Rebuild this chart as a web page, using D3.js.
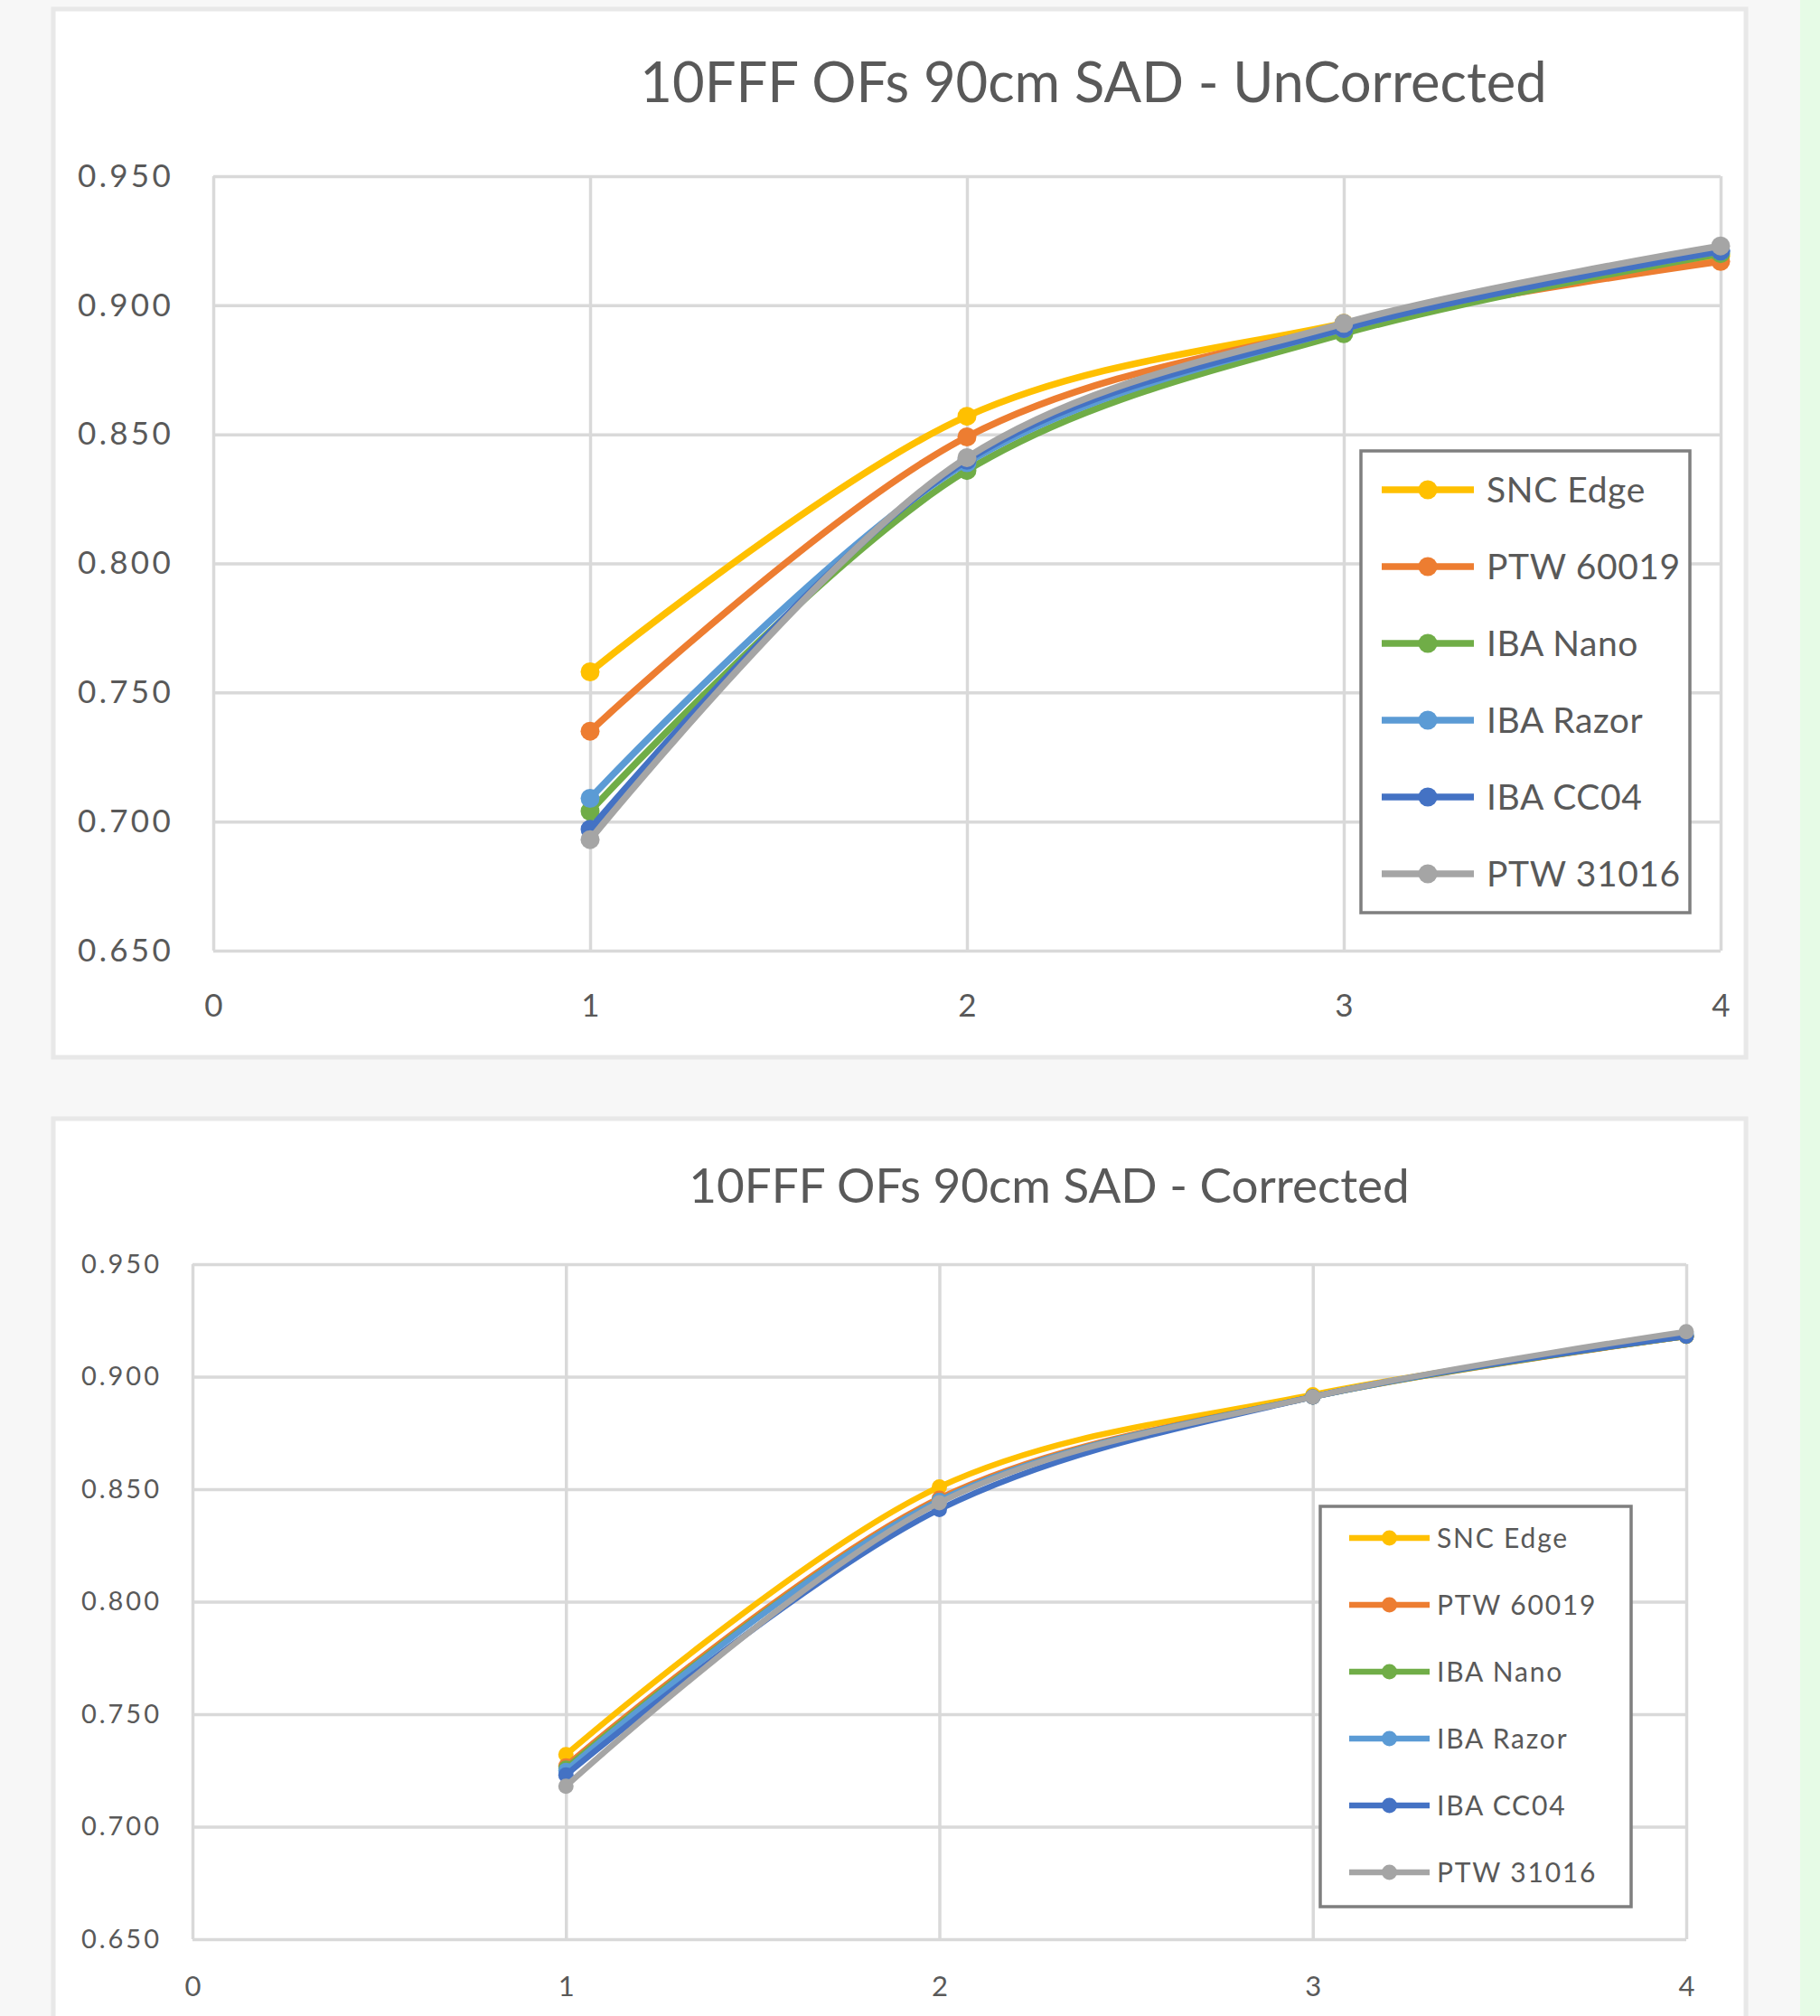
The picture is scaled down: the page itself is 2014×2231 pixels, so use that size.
<!DOCTYPE html>
<html>
<head>
<meta charset="utf-8">
<script src="https://cdn.jsdelivr.net/npm/d3@7"></script>
<style>
  html, body { margin: 0; padding: 0; background: #f7f7f7; }
  svg { display: block; font-family: Lato, "Open Sans", sans-serif; }
</style>
</head>
<body>
<svg id="page" width="2014" height="2231"></svg>
<script>
// ---- data ----
const seriesNames = ["SNC Edge", "PTW 60019", "IBA Nano", "IBA Razor", "IBA CC04", "PTW 31016"];
const seriesColors = ["#ffc000", "#ed7d31", "#70ad47", "#5b9bd5", "#4472c4", "#a5a5a5"];
const fieldSizes = [1, 2, 3, 4];
const xTicks = [0, 1, 2, 3, 4];
const yTicks = [0.65, 0.70, 0.75, 0.80, 0.85, 0.90, 0.95];

// uncorrected output factors
const uncSNC = [0.758, 0.857, 0.893, 0.919];
const uncPTW60019 = [0.735, 0.849, 0.892, 0.917];
const uncNano = [0.704, 0.836, 0.889, 0.920];
const uncRazor = [0.709, 0.839, 0.891, 0.921];
const uncCC04 = [0.697, 0.840, 0.891, 0.921];
const uncPTW31016 = [0.693, 0.841, 0.893, 0.923];

// corrected output factors
const corSNC = [0.732, 0.851, 0.892, 0.918];
const corPTW60019 = [0.727, 0.846, 0.891, 0.918];
const corNano = [0.726, 0.845, 0.891, 0.918];
const corRazor = [0.725, 0.845, 0.891, 0.919];
const corCC04 = [0.723, 0.841, 0.891, 0.918];
const corPTW31016 = [0.718, 0.844, 0.891, 0.920];

const svg = d3.select("#page");

// green strip on the right edge
svg.append("rect").attr("x", 1992).attr("y", 0).attr("width", 22).attr("height", 2231).attr("fill", "#e6fbe6");

function drawChart(cfg, values) {
  const g = svg.append("g");

  // panel
  g.append("rect")
    .attr("x", cfg.panel.x).attr("y", cfg.panel.y)
    .attr("width", cfg.panel.w).attr("height", cfg.panel.h)
    .attr("fill", "#fff").attr("stroke", "#e8e8e8").attr("stroke-width", 5);

  g.append("text")
    .attr("x", cfg.title.x).attr("y", cfg.title.y)
    .attr("text-anchor", "middle")
    .attr("fill", "#595959")
    .style("font-size", cfg.title.size + "px")
    .text(cfg.title.text);

  const x = d3.scaleLinear().domain([0, 4]).range([cfg.plot.left, cfg.plot.right]);
  const y = d3.scaleLinear().domain([0.65, 0.95]).range([cfg.plot.bottom, cfg.plot.top]);
  const plotW = cfg.plot.right - cfg.plot.left;
  const plotH = cfg.plot.bottom - cfg.plot.top;

  const yAxis = g.append("g")
    .attr("transform", `translate(${cfg.plot.left},0)`)
    .call(d3.axisLeft(y).tickValues(yTicks).tickFormat(d3.format(".3f"))
      .tickSize(-plotW).tickPadding(cfg.yTick.pad));

  const xAxis = g.append("g")
    .attr("transform", `translate(0,${cfg.plot.bottom})`)
    .call(d3.axisBottom(x).tickValues(xTicks).tickFormat(d3.format("d"))
      .tickSize(-plotH).tickPadding(cfg.xTick.pad));

  [yAxis, xAxis].forEach(a => {
    a.select(".domain").remove();
    a.selectAll(".tick line").attr("stroke", "#d9d9d9").attr("stroke-width", 3.5);
    a.selectAll("text").attr("fill", "#595959").attr("font-family", "Lato");
  });
  yAxis.selectAll("text").style("font-size", cfg.yTick.size + "px").style("letter-spacing", cfg.yTick.ls + "px");
  xAxis.selectAll("text").style("font-size", cfg.xTick.size + "px");

  const line = d3.line()
    .x((d, i) => x(fieldSizes[i]))
    .y(d => y(d))
    .curve(d3.curveCatmullRom);

  values.forEach((vals, k) => {
    g.append("path")
      .attr("d", line(vals))
      .attr("fill", "none")
      .attr("stroke", seriesColors[k])
      .attr("stroke-width", cfg.lineW);
    g.selectAll(null)
      .data(vals)
      .enter()
      .append("circle")
      .attr("cx", (d, i) => x(fieldSizes[i]))
      .attr("cy", d => y(d))
      .attr("r", cfg.r)
      .attr("fill", seriesColors[k]);
  });

  // legend
  const L = cfg.legend;
  const lg = g.append("g");
  lg.append("rect")
    .attr("x", L.x).attr("y", L.y).attr("width", L.w).attr("height", L.h)
    .attr("fill", "#fff").attr("stroke", "#7f7f7f").attr("stroke-width", 3.5);

  const items = lg.selectAll(".legend-item")
    .data(seriesNames)
    .enter()
    .append("g")
    .attr("class", "legend-item")
    .attr("transform", (d, i) => `translate(0,${L.first + i * L.step})`);

  items.append("line")
    .attr("x1", L.x1).attr("x2", L.x2)
    .attr("stroke", (d, i) => seriesColors[i])
    .attr("stroke-width", cfg.lineW);
  items.append("circle")
    .attr("cx", (L.x1 + L.x2) / 2)
    .attr("r", cfg.r)
    .attr("fill", (d, i) => seriesColors[i]);
  items.append("text")
    .attr("x", L.tx)
    .attr("dy", "0.36em")
    .attr("fill", "#595959")
    .style("font-size", L.size + "px")
    .style("letter-spacing", L.ls + "px")
    .text(d => d);
}

drawChart({
  panel: { x: 59, y: 10, w: 1873, h: 1160 },
  title: { x: 1210, y: 113, size: 61.5, text: "10FFF OFs 90cm SAD - UnCorrected" },
  plot: { left: 236, right: 1904, top: 195, bottom: 1052 },
  yTick: { size: 35, pad: 44, ls: 3.3 },
  xTick: { size: 35, pad: 48 },
  lineW: 7.5, r: 10.5,
  legend: { x: 1506, y: 499, w: 364, h: 511, first: 542, step: 85, x1: 1529, x2: 1631, tx: 1645, size: 39, ls: 0.6 }
}, [uncSNC, uncPTW60019, uncNano, uncRazor, uncCC04, uncPTW31016]);

drawChart({
  panel: { x: 59, y: 1238, w: 1873, h: 1100 },
  title: { x: 1161, y: 1331, size: 53, text: "10FFF OFs 90cm SAD - Corrected" },
  plot: { left: 213, right: 1866, top: 1399, bottom: 2146 },
  yTick: { size: 29, pad: 34, ls: 3 },
  xTick: { size: 31, pad: 41 },
  lineW: 6.5, r: 8.5,
  legend: { x: 1461, y: 1667, w: 344, h: 443, first: 1702, step: 74, x1: 1493, x2: 1582, tx: 1590, size: 30, ls: 1.8 }
}, [corSNC, corPTW60019, corNano, corRazor, corCC04, corPTW31016]);
</script>
</body>
</html>
